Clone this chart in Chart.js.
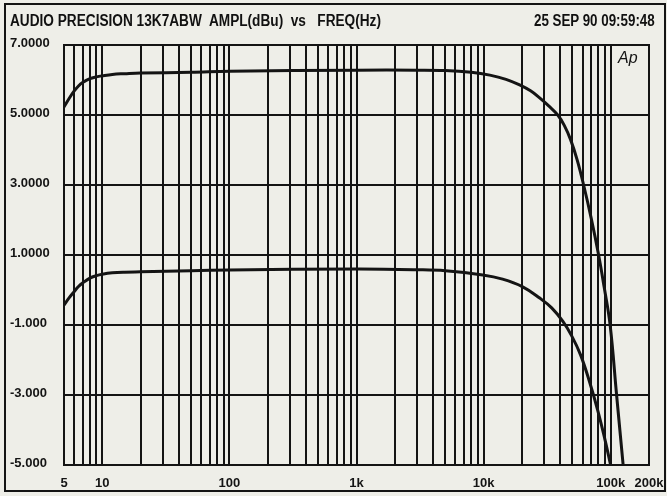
<!DOCTYPE html>
<html>
<head>
<meta charset="utf-8">
<script src="https://cdn.jsdelivr.net/npm/chart.js@4.4.1/dist/chart.umd.min.js"></script>
<style>
  html, body { margin: 0; padding: 0; background: #eeeee8; }
  #wrap { position: relative; width: 667px; height: 496px; overflow: hidden; }
  canvas { position: absolute; left: 0; top: 0; }
  .hdr {
    position: absolute; top: 12px; white-space: pre; color: #111;
    font: bold 16px 'Liberation Sans Narrow', 'Liberation Sans', Arial, sans-serif;
  }
  #title { left: 10px; transform-origin: left top; }
  #stamp { right: 12px; transform-origin: right top; }
</style>
</head>
<body>
<div id="wrap">
  <canvas id="apChart" width="667" height="496"></canvas>
  <div id="title" class="hdr">AUDIO PRECISION 13K7ABW  AMPL(dBu)  vs   FREQ(Hz)</div>
  <div id="stamp" class="hdr">25 SEP 90 09:59:48</div>
</div>
<script>
// frequencies (Hz) and levels (dBu) for each curve
const upperFreq = [5, 5.5, 6, 6.5, 7, 8, 9, 10, 12, 15, 20, 50, 100, 1000, 3000, 5000, 8000, 11200, 15000, 19200, 23400, 27600, 32500, 38300, 43000, 48400, 54500, 61200, 70100, 80300, 88700, 98900, 111200, 125200];
const upperDbu  = [5.23, 5.48, 5.68, 5.83, 5.93, 6.04, 6.09, 6.12, 6.16, 6.18, 6.20, 6.22, 6.25, 6.28, 6.28, 6.27, 6.22, 6.14, 6.02, 5.86, 5.69, 5.49, 5.26, 5.00, 4.71, 4.29, 3.71, 3.00, 2.06, 1.00, 0.09, -1.00, -3.00, -5.00];

const lowerFreq = [5, 5.5, 6, 6.5, 7, 8, 9, 10, 12, 15, 20, 50, 100, 1000, 3000, 5000, 9840, 14100, 20300, 27600, 34300, 41900, 49300, 58000, 68200, 78900, 89500, 99800];
const lowerDbu  = [-0.43, -0.22, -0.05, 0.10, 0.20, 0.34, 0.41, 0.45, 0.49, 0.51, 0.52, 0.55, 0.57, 0.60, 0.58, 0.55, 0.43, 0.31, 0.09, -0.23, -0.51, -0.89, -1.31, -1.86, -2.63, -3.43, -4.23, -5.00];

// grid positions and labels
const gridFreqs = [5, 6, 7, 8, 9, 10, 20, 30, 40, 50, 60, 70, 80, 90, 100,
  200, 300, 400, 500, 600, 700, 800, 900, 1000,
  2000, 3000, 4000, 5000, 6000, 7000, 8000, 9000, 10000,
  20000, 30000, 40000, 50000, 60000, 70000, 80000, 90000, 100000, 200000];
const xTickValues = [5, 10, 100, 1000, 10000, 100000, 200000];
const xTickLabels = ['5', '10', '100', '1k', '10k', '100k', '200k'];
const yTickValues = [7, 5, 3, 1, -1, -3, -5];
const yTickLabels = ['7.0000', '5.0000', '3.0000', '1.0000', '-1.000', '-3.000', '-5.000'];

const ink = '#141414';
const paper = '#eeeee8';
const fontFamily = "'Liberation Sans', Arial, sans-serif";

function fitWidth(id, target) {
  const el = document.getElementById(id);
  el.style.transform = 'scaleX(' + (target / el.offsetWidth) + ')';
}
fitWidth('title', 371);
fitWidth('stamp', 121);

const framePlugin = {
  id: 'frame',
  afterDraw(chart) {
    const ctx = chart.ctx;
    const a = chart.chartArea;
    ctx.save();
    ctx.strokeStyle = ink;
    ctx.lineWidth = 2;
    ctx.strokeRect(a.left, a.top, a.right - a.left, a.bottom - a.top);
    ctx.strokeRect(5, 4, 660, 487);
    // Ap badge
    ctx.fillStyle = paper;
    ctx.fillRect(a.right - 37, a.top + 2, 35, 26);
    ctx.fillStyle = ink;
    ctx.font = 'italic 16px ' + fontFamily;
    ctx.textBaseline = 'middle';
    ctx.fillText('Ap', a.right - 31, a.top + 14);
    ctx.restore();
  }
};

new Chart('apChart', {
  type: 'line',
  data: {
    datasets: [{
      data: upperFreq.map((f, i) => ({ x: f, y: upperDbu[i] })),
      borderColor: ink,
      borderWidth: 3,
      tension: 0.4
    }, {
      data: lowerFreq.map((f, i) => ({ x: f, y: lowerDbu[i] })),
      borderColor: ink,
      borderWidth: 3,
      tension: 0.4
    }]
  },
  options: {
    responsive: false,
    animation: false,
    clip: true,
    layout: { padding: { left: 10, right: 18, top: 45, bottom: 5 } },
    elements: { point: { radius: 0 } },
    plugins: { legend: { display: false }, tooltip: { enabled: false } },
    scales: {
      x: {
        type: 'logarithmic',
        min: 5,
        max: 200000,
        afterBuildTicks: s => { s.ticks = gridFreqs.map(v => ({ value: v })); },
        afterFit: s => { s.height = 26; s.paddingLeft = 0; s.paddingRight = 0; },
        border: { display: false },
        grid: { color: ink, lineWidth: 2, drawTicks: false },
        ticks: {
          autoSkip: false,
          maxRotation: 0,
          padding: 11,
          color: ink,
          font: { family: fontFamily, size: 13, weight: 'bold' },
          callback: v => {
            const i = xTickValues.indexOf(v);
            return i >= 0 ? xTickLabels[i] : '';
          }
        }
      },
      y: {
        min: -5,
        max: 7,
        afterBuildTicks: s => { s.ticks = yTickValues.map(v => ({ value: v })); },
        afterFit: s => { s.width = 54; },
        border: { display: false },
        grid: { color: ink, lineWidth: 2, drawTicks: false },
        ticks: {
          crossAlign: 'far',
          labelOffset: -2,
          color: ink,
          font: { family: fontFamily, size: 13, weight: 'bold' },
          callback: v => {
            const i = yTickValues.indexOf(v);
            return i >= 0 ? yTickLabels[i] : '';
          }
        }
      }
    }
  },
  plugins: [framePlugin]
});
</script>
</body>
</html>
